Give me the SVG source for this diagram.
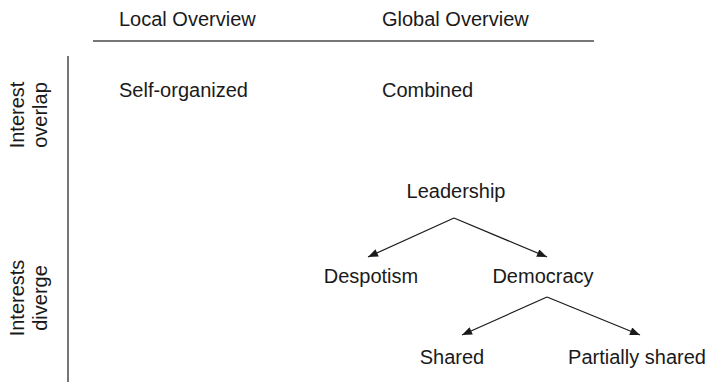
<svg xmlns="http://www.w3.org/2000/svg" width="714" height="382" viewBox="0 0 714 382">
  <style>
    text { font-family: "Liberation Sans", Arial, sans-serif; font-size: 20px; fill: #1a1a1a; }
    .axis { stroke: #4a4a4a; stroke-width: 1.5; fill: none; }
    .edge { stroke: #1a1a1a; stroke-width: 1.2; fill: none; marker-end: url(#arrow); }
  </style>
  <defs>
    <marker id="arrow" viewBox="0 0 10 8" refX="10" refY="4" markerWidth="11" markerHeight="8" markerUnits="userSpaceOnUse" orient="auto">
      <path d="M0,0 L10,4 L0,8 Z" fill="#1a1a1a"/>
    </marker>
  </defs>

  <!-- axes -->
  <g id="axes">
    <line class="axis" x1="93" y1="41" x2="594" y2="41"/>
    <line class="axis" x1="68" y1="56" x2="68" y2="382"/>
  </g>

  <!-- column headers -->
  <g id="col-local"><text x="119" y="26">Local Overview</text></g>
  <g id="col-global"><text x="382" y="26">Global Overview</text></g>

  <!-- row headers -->
  <g id="row-overlap">
    <text transform="translate(24,115) rotate(-90)" text-anchor="middle">Interest</text>
    <text transform="translate(47,115) rotate(-90)" text-anchor="middle">overlap</text>
  </g>
  <g id="row-diverge">
    <text transform="translate(24,298) rotate(-90)" text-anchor="middle">Interests</text>
    <text transform="translate(47,298) rotate(-90)" text-anchor="middle">diverge</text>
  </g>

  <!-- cells -->
  <g id="self-organized"><text x="119" y="97">Self-organized</text></g>
  <g id="combined"><text x="382" y="97">Combined</text></g>

  <!-- leadership tree -->
  <g id="leadership"><text x="456" y="198" text-anchor="middle">Leadership</text></g>
  <g id="despotism"><text x="371" y="283" text-anchor="middle">Despotism</text></g>
  <g id="democracy"><text x="543" y="283" text-anchor="middle">Democracy</text></g>
  <g id="shared"><text x="452" y="364" text-anchor="middle">Shared</text></g>
  <g id="partially-shared"><text x="637" y="364" text-anchor="middle">Partially shared</text></g>

  <g id="connectors">
    <line class="edge" x1="454" y1="218" x2="368" y2="257"/>
    <line class="edge" x1="454" y1="218" x2="547" y2="257"/>
    <line class="edge" x1="547" y1="297" x2="462" y2="335"/>
    <line class="edge" x1="547" y1="297" x2="640" y2="335"/>
  </g>
</svg>
